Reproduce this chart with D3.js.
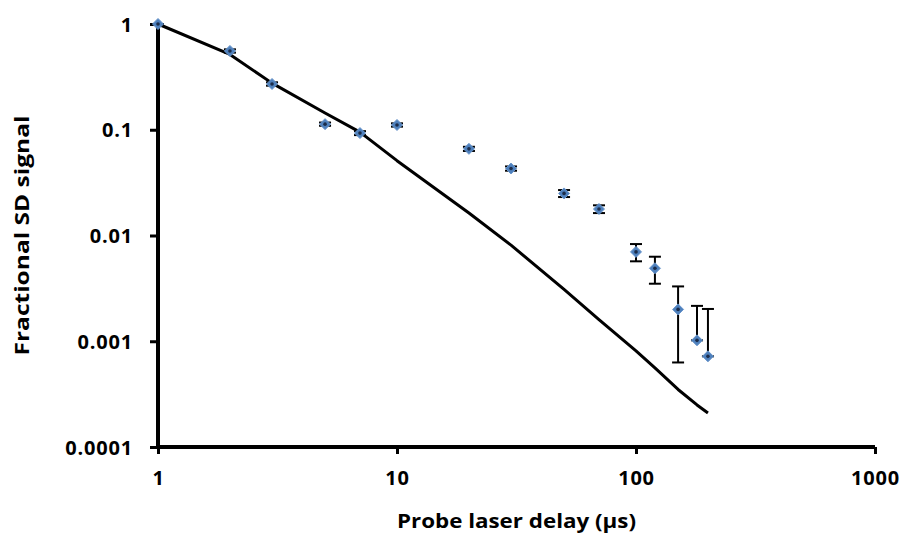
<!DOCTYPE html>
<html>
<head>
<meta charset="utf-8">
<script src="https://cdn.jsdelivr.net/npm/d3@7"></script>
<style>
  html, body { margin: 0; padding: 0; background: #fff; }
  svg text { font-family: "Open Sans", Lato, sans-serif; font-weight: bold; fill: #000; }
</style>
</head>
<body>
<svg id="chart" width="904" height="535"></svg>
<script>
// ---- data ----
const delays   = [1, 2, 3, 5, 7, 10, 20, 30, 50, 70, 100, 120, 150, 180, 200];
const signal   = [1, 0.556, 0.271, 0.113, 0.093, 0.111, 0.066, 0.043, 0.025, 0.0178, 0.0070, 0.0049, 0.0020, 0.00102, 0.00072];
const errPlus  = [0, 0.02, 0.01, 0.004, 0.004, 0.004, 0.003, 0.002, 0.0019, 0.0015, 0.0013, 0.0014, 0.0013, 0.00114, 0.0013];
const errMinus = [0, 0.02, 0.01, 0.004, 0.004, 0.004, 0.003, 0.002, 0.0019, 0.0015, 0.0013, 0.0014, 0.00137, 0, 0];
const model    = [1, 0.515, 0.276, 0.144, 0.095, 0.051, 0.0163, 0.0081, 0.0031, 0.0016, 0.00081, 0.00056, 0.00035, 0.00025, 0.00021];
const xTicks   = [1, 10, 100, 1000];
const yTicks   = [0.0001, 0.001, 0.01, 0.1, 1];
const yTickLabels = ["0.0001", "0.001", "0.01", "0.1", "1"];
const xTitle = "Probe laser delay (\u00b5s)";
const yTitle = "Fractional SD signal";

const svg = d3.select("#chart");
const x = d3.scaleLog().domain([1, 1000]).range([158, 875]);
const y = d3.scaleLog().domain([0.0001, 1]).range([447, 24]);

// axes
const xAxis = d3.axisBottom(x).tickValues(xTicks).tickFormat(d3.format("d")).tickSize(7).tickPadding(19);
const yAxis = d3.axisLeft(y).tickValues(yTicks).tickFormat((d, i) => yTickLabels[i]).tickSize(8).tickPadding(17);

const gx = svg.append("g").attr("transform", `translate(0,${y(0.0001)})`).call(xAxis);
const gy = svg.append("g").attr("transform", `translate(${x(1)},0)`).call(yAxis);
[gx, gy].forEach(g => {
  g.select(".domain").attr("stroke", "#000").attr("stroke-width", 4);
  g.selectAll(".tick line").attr("stroke", "#000").attr("stroke-width", 3);
  g.selectAll(".tick text").style("font-size", "20px").style("letter-spacing", "0.8px").attr("fill", "#000");
});
gx.select(".domain").attr("d", `M${x(1)},0H${x(1000)}`);
gy.select(".domain").attr("d", `M0,${y(1)}V${y(0.0001)}`);
gx.selectAll(".tick text").attr("dy", "0.6em");
gy.selectAll(".tick text").attr("dy", "0.36em");

// model line
const pts = delays.map((d, i) => ({ d, v: signal[i], m: model[i], ep: errPlus[i], em: errMinus[i] }));
svg.append("path")
  .datum(pts)
  .attr("fill", "none")
  .attr("stroke", "#000")
  .attr("stroke-width", 3)
  .attr("stroke-linejoin", "round")
  .attr("d", d3.line().x(p => x(p.d)).y(p => y(p.m)));

// error bars
const eb = svg.append("g").attr("stroke", "#000").attr("stroke-width", 2);
pts.forEach(p => {
  const cx = x(p.d);
  const top = y(p.v + p.ep);
  const bot = y(p.v - p.em);
  eb.append("line").attr("x1", cx).attr("x2", cx).attr("y1", top).attr("y2", bot);
  eb.append("line").attr("x1", cx - 6).attr("x2", cx + 6).attr("y1", top).attr("y2", top);
  eb.append("line").attr("x1", cx - 6).attr("x2", cx + 6).attr("y1", bot).attr("y2", bot);
});

// markers
const mk = svg.append("g");
mk.selectAll("path.m").data(pts).join("path")
  .attr("class", "m")
  .attr("transform", p => `translate(${x(p.d)},${y(p.v)})`)
  .attr("d", "M0,-5.5L5.5,0L0,5.5L-5.5,0Z")
  .attr("fill", "#4F81BD")
  .attr("stroke", "#6A96CC")
  .attr("stroke-width", 1);
mk.selectAll("circle.c").data(pts).join("circle")
  .attr("class", "c")
  .attr("cx", p => x(p.d)).attr("cy", p => y(p.v)).attr("r", 1.8)
  .attr("fill", "#1B2C4A");

// titles
svg.append("text")
  .attr("x", (x(1) + x(1000)) / 2).attr("y", 528)
  .attr("text-anchor", "middle")
  .attr("textLength", 239).attr("lengthAdjust", "spacingAndGlyphs")
  .style("font-size", "19px")
  .text(xTitle);
svg.append("text")
  .attr("transform", `translate(29,${(y(1) + y(0.0001)) / 2}) rotate(-90)`)
  .attr("text-anchor", "middle")
  .attr("textLength", 240).attr("lengthAdjust", "spacingAndGlyphs")
  .style("font-size", "19px")
  .text(yTitle);
</script>
</body>
</html>
